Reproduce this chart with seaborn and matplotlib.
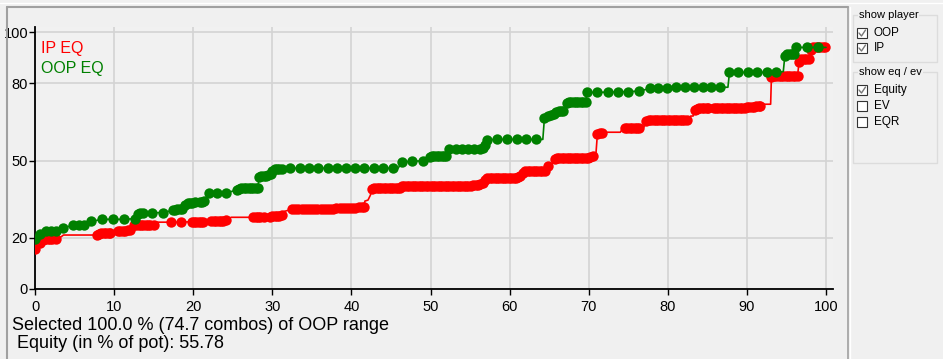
import matplotlib
matplotlib.use("Agg")
import matplotlib.pyplot as plt
from matplotlib.patches import Rectangle
from matplotlib.lines import Line2D
import seaborn as sns
import pandas as pd

# ---------------- data ----------------
IP_X = [0.0, 0.6, 1.0, 1.3, 1.6, 1.9, 2.2, 2.6,
        7.8, 8.1, 8.4, 8.7, 9.0, 9.3, 9.5,
        10.5, 10.8, 11.1, 11.4, 11.7, 12.0,
        12.5, 12.8, 13.1, 13.4, 13.7, 14.0, 14.3, 14.6, 15.0,
        17.2, 18.5,
        19.8, 20.1, 20.4, 20.7, 21.0, 21.3,
        22.3, 22.6, 22.9, 23.2, 23.5, 23.8, 24.2,
        27.6, 27.9, 28.2, 28.5, 28.9,
        29.7, 30.0, 30.3, 30.6, 30.9, 31.2,
        32.5, 32.9, 33.3, 33.7, 34.1, 34.5, 34.9, 35.3, 35.7, 36.1, 36.5, 36.9,
        37.3, 37.7, 38.1, 38.5, 38.9, 39.3, 39.7, 40.1, 40.5, 40.9, 41.3, 41.6,
        42.6, 42.9, 43.2, 43.5, 43.8, 44.1, 44.4, 44.7, 45.0, 45.3, 45.6, 45.9, 46.1,
        46.4, 46.7, 47.0, 47.3, 47.6, 47.9, 48.2, 48.5, 48.8, 49.1, 49.4, 49.7,
        50.0, 50.3, 50.6, 50.9, 51.2, 51.5, 51.8, 52.1, 52.4, 52.7, 53.0, 53.3,
        53.6, 53.9, 54.2, 54.5, 54.8, 55.1, 55.4, 55.7, 56.0, 56.3, 56.6,
        56.9, 57.2, 57.5, 57.8, 58.1, 58.4, 58.7, 59.0, 59.3, 59.6, 59.9, 60.2,
        60.5, 60.8, 61.1, 61.3,
        61.7, 62.0, 62.3, 62.6, 62.9, 63.2, 63.5, 63.8, 64.1, 64.5,
        64.9,
        65.7, 66.0, 66.3, 66.6, 66.9, 67.2, 67.5, 67.8, 68.1, 68.4, 68.7, 69.0,
        69.3, 69.6, 69.9, 70.2, 70.6,
        71.1, 71.4, 71.7,
        74.6, 74.9, 75.2, 75.5, 75.8, 76.1, 76.4,
        77.3, 77.6, 77.9, 78.2, 78.5, 78.8, 79.1, 79.4, 79.7, 80.0, 80.3, 80.6,
        80.9, 81.2, 81.5, 81.8, 82.1, 82.4,
        83.4, 83.7, 84.0, 84.3, 84.6, 84.9, 85.1,
        85.8, 86.1, 86.4, 86.7, 87.0, 87.3, 87.6, 87.9, 88.2, 88.5, 88.8, 89.1,
        89.4, 89.7, 90.0, 90.3, 90.6, 90.9, 91.2, 91.5, 91.7,
        93.1, 93.4, 93.7, 94.0, 94.3, 94.6, 94.9, 95.2, 95.5, 95.8, 96.1, 96.4,
        96.6, 96.9, 97.2, 97.5, 97.8,
        98.1, 98.4, 98.7, 99.0, 99.3, 99.6, 99.9]
IP_Y = [15.4, 18.0, 19.0, 19.3, 19.3, 19.3, 19.3, 19.3,
        21.2, 21.5, 21.7, 21.7, 21.7, 21.8, 21.8,
        22.4, 22.6, 22.7, 22.7, 22.8, 23.0,
        24.9, 24.9, 24.9, 24.9, 24.9, 24.9, 24.9, 24.9, 24.9,
        26.0, 26.0,
        26.2, 26.2, 26.2, 26.2, 26.2, 26.2,
        26.6, 26.6, 26.6, 26.6, 26.6, 26.6, 26.8,
        27.9, 27.9, 27.9, 27.9, 28.0,
        28.2, 28.4, 28.4, 28.4, 28.5, 28.8,
        31.0, 31.0, 31.0, 31.0, 31.0, 31.0, 31.0, 31.0, 31.0, 31.0, 31.1, 31.2,
        31.2, 31.3, 31.4, 31.4, 31.5, 31.5, 31.6, 31.6, 31.7, 31.8, 31.8, 31.8,
        39.0, 39.2, 39.2, 39.2, 39.2, 39.2, 39.2, 39.2, 39.2, 39.2, 39.2, 39.2, 39.2,
        39.9, 40.1, 40.2, 40.2, 40.2, 40.2, 40.2, 40.2, 40.2, 40.2, 40.2, 40.2,
        40.2, 40.2, 40.2, 40.2, 40.2, 40.2, 40.2, 40.2, 40.2, 40.2, 40.2, 40.2,
        40.2, 40.2, 40.2, 40.2, 40.2, 40.2, 40.3, 40.4, 40.6, 40.9, 41.3,
        42.4, 43.0, 43.2, 43.2, 43.2, 43.2, 43.2, 43.2, 43.2, 43.2, 43.2, 43.2,
        43.2, 43.2, 43.5, 44.0,
        45.3, 45.8, 45.8, 45.8, 45.8, 45.8, 45.8, 45.8, 45.8, 45.8,
        47.9,
        50.4, 50.9, 51.1, 51.1, 51.1, 51.1, 51.1, 51.1, 51.1, 51.1, 51.1, 51.1,
        51.1, 51.1, 51.1, 51.3, 51.7,
        60.3, 60.6, 60.6,
        62.5, 62.5, 62.5, 62.5, 62.5, 62.5, 62.5,
        65.2, 65.8, 65.8, 65.8, 65.8, 65.8, 65.8, 65.8, 65.8, 65.8, 65.8, 65.8,
        65.8, 65.8, 65.8, 65.8, 65.8, 65.8,
        69.6, 70.1, 70.3, 70.3, 70.3, 70.3, 70.3,
        70.5, 70.6, 70.6, 70.6, 70.6, 70.6, 70.6, 70.6, 70.6, 70.6, 70.6, 70.6,
        70.6, 70.6, 70.7, 70.8, 70.9, 71.0, 71.1, 71.1, 71.2,
        82.4, 82.9, 82.9, 82.9, 82.9, 82.9, 82.9, 82.9, 82.9, 82.9, 82.9, 82.9,
        88.4, 89.4, 89.4, 89.4, 89.4,
        93.0, 94.0, 94.0, 94.0, 94.0, 94.0, 94.0]
# corner points of the IP line that carry no marker
IP_CORNER_X = [3.3, 3.6, 7.5, 15.2, 24.8, 31.5, 41.7, 42.1, 42.4, 65.4, 70.9,
               71.9, 74.0, 74.3, 76.9, 82.7, 82.9, 83.2, 92.0, 93.0]
IP_CORNER_Y = [20.3, 21.0, 21.0, 26.0, 27.9, 30.2, 34.2, 34.6, 36.5, 48.8, 52.0,
               61.0, 61.0, 62.5, 62.6, 66.0, 67.3, 67.3, 71.9, 71.9]

OOP_X = [0.0, 0.6, 1.4, 2.0, 2.6, 3.5, 4.8, 5.5, 6.2, 7.1, 8.5, 9.9, 11.3, 12.7,
         13.0, 13.3, 13.6, 14.8, 16.2, 17.4, 17.7, 18.0, 18.3, 18.6,
         19.0, 19.3, 19.6, 19.9, 20.2, 20.8, 21.1, 21.4, 22.0, 23.0, 24.1,
         25.5, 25.8, 26.1, 26.4, 26.7, 27.0, 27.3, 27.6, 27.9, 28.2,
         28.3, 28.6, 28.9, 29.2, 29.5, 29.8,
         30.0, 30.3, 30.6, 30.9, 31.2,
         32.3, 33.5, 34.7, 35.8, 37.0, 38.2, 39.3, 40.5, 41.6, 42.9, 44.0, 45.2,
         46.4, 47.7, 49.0,
         49.9, 50.2, 50.5, 50.8, 51.1, 51.4, 51.7, 52.0,
         52.4, 53.2, 54.0, 54.7, 55.5, 56.2, 56.7, 56.9, 57.1,
         58.4, 59.7, 60.9, 62.1, 63.4,
         64.4, 64.8, 65.2, 65.6, 65.9, 66.2, 66.5, 66.8,
         67.2, 67.5, 67.8, 68.1, 68.4, 68.7, 69.0, 69.3, 69.6,
         69.8, 71.1, 72.4, 73.7, 75.0, 76.4,
         77.8, 78.8, 79.9, 81.0, 82.2, 83.3, 84.4, 85.5, 86.6,
         87.8, 88.9, 90.1, 91.3, 92.5, 93.7,
         94.8, 95.1, 95.4, 95.7, 95.9,
         96.2, 97.6, 99.0]
OOP_Y = [19.3, 21.4, 22.7, 22.7, 22.7, 23.7, 24.8, 24.8, 24.8, 26.3, 27.1, 27.1, 27.1, 27.4,
         29.2, 29.7, 29.7, 29.7, 29.7, 30.6, 30.9, 31.0, 31.0, 31.2,
         32.8, 33.4, 33.6, 33.6, 33.8, 34.0, 34.0, 34.3, 37.2, 37.2, 37.2,
         38.6, 39.0, 39.2, 39.2, 39.2, 39.2, 39.2, 39.2, 39.2, 39.2,
         43.5, 44.0, 44.0, 44.0, 44.2, 44.6,
         45.9, 46.5, 46.6, 46.7, 46.8,
         47.0, 47.0, 47.0, 47.0, 47.0, 47.0, 47.0, 47.0, 47.0, 47.0, 47.0, 47.0,
         49.3, 49.8, 49.8,
         51.4, 51.8, 51.8, 51.8, 51.8, 51.8, 51.8, 51.8,
         54.5, 54.5, 54.5, 54.5, 54.5, 54.5, 55.0, 56.0, 58.0,
         58.2, 58.2, 58.2, 58.2, 58.2,
         66.4, 67.4, 67.8, 68.2, 69.0, 69.4, 69.4, 69.2,
         72.5, 72.9, 72.9, 72.9, 72.9, 72.9, 72.9, 72.9, 72.9,
         76.5, 76.5, 76.6, 76.7, 76.8, 77.0,
         78.1, 78.1, 78.1, 78.5, 78.5, 78.5, 78.5, 78.5, 78.5,
         84.3, 84.3, 84.3, 84.3, 84.3, 84.3,
         90.8, 91.3, 91.3, 91.3, 91.3,
         94.0, 94.0, 94.0]
OOP_CORNER_X = [45.9, 64.2, 87.6, 94.6, 96.1, 100.0]
OOP_CORNER_Y = [47.0, 58.2, 78.5, 84.6, 91.3, 94.0]

X_TICKS = [0, 10, 20, 30, 40, 50, 60, 70, 80, 90, 100]
Y_TICKS = [0, 20, 50, 80, 100]
SERIES_LABELS = ["IP EQ", "OOP EQ"]
INFO_LINES = ["Selected 100.0 % (74.7 combos) of OOP range",
              " Equity (in % of pot): 55.78"]
GROUPS = [("show player", [("OOP", True), ("IP", True)]),
          ("show eq / ev", [("Equity", True), ("EV", False), ("EQR", False)])]

# ---------------- style ----------------
sns.set_style("ticks")
BG = "#F0F0F0"
plt.rcParams["font.family"] = ["Liberation Sans", "DejaVu Sans"]
RED = "#FF0000"
GREEN = "#008000"

W, H = 943, 359
fig = plt.figure(figsize=(W / 100, H / 100), dpi=100, facecolor=BG)

def fx(px):
    return px / W

def fy(py):
    return 1 - py / H

ax = fig.add_axes([fx(35), fy(289), fx(833) - fx(35), fy(27) - fy(289)])
ax.set_facecolor("#F1F1F1")

ip_line = pd.DataFrame({"x": IP_X + IP_CORNER_X, "y": IP_Y + IP_CORNER_Y}).sort_values("x")
oop_line = pd.DataFrame({"x": OOP_X + OOP_CORNER_X, "y": OOP_Y + OOP_CORNER_Y}).sort_values("x")
ip_pts = pd.DataFrame({"x": IP_X, "y": IP_Y})
oop_pts = pd.DataFrame({"x": OOP_X, "y": OOP_Y})

sns.lineplot(data=ip_line, x="x", y="y", sort=False, estimator=None,
             color=RED, lw=1.2, ax=ax, zorder=3)
sns.scatterplot(data=ip_pts, x="x", y="y", color=RED, s=56, marker="o",
                linewidth=0, ax=ax, zorder=4)
sns.lineplot(data=oop_line, x="x", y="y", sort=False, estimator=None,
             color=GREEN, lw=1.2, ax=ax, zorder=5)
sns.scatterplot(data=oop_pts, x="x", y="y", color=GREEN, s=56, marker="o",
                linewidth=0, ax=ax, zorder=6)

ax.set_xlim(0, (833 - 35) / 7.91)
ax.set_ylim(0, (289 - 27) / 2.57)
ax.set_xticks(X_TICKS)
ax.set_yticks(Y_TICKS)
ax.set_xlabel("")
ax.set_ylabel("")
ax.grid(True, color="#D4D4D4", lw=1.2)
ax.set_axisbelow(True)
for s in ["top", "right"]:
    ax.spines[s].set_visible(False)
for s in ["left", "bottom"]:
    ax.spines[s].set_color("black")
    ax.spines[s].set_linewidth(1.3)
ax.tick_params(axis="both", length=4, width=1, color="black", labelsize=10.5,
               labelcolor="black", pad=1)
ax.tick_params(axis="x", pad=4)

# series labels inside the plot
fig.text(fx(41), fy(48), SERIES_LABELS[0], color=RED, fontsize=11.5, va="center", ha="left")
fig.text(fx(41), fy(68), SERIES_LABELS[1], color=GREEN, fontsize=11.5, va="center", ha="left")

# info text below
fig.text(fx(12), fy(325), INFO_LINES[0], fontsize=13, va="center", ha="left", color="black")
fig.text(fx(12), fy(344), INFO_LINES[1], fontsize=13, va="center", ha="left", color="black")

# panel borders
fig.add_artist(Line2D([fx(7), fx(848)], [fy(7), fy(7)], color="#A0A0A0", lw=1.5))
fig.add_artist(Line2D([fx(7), fx(7)], [fy(7), fy(359)], color="#A0A0A0", lw=1.5))
fig.add_artist(Line2D([fx(848), fx(848)], [fy(7), fy(359)], color="#A0A0A0", lw=1.2))
fig.add_artist(Line2D([fx(850), fx(850)], [fy(7), fy(359)], color="white", lw=1.0))
fig.add_artist(Line2D([fx(0), fx(943)], [fy(3), fy(3)], color="white", lw=1.0))

# group boxes with check boxes
group_geo = [(15, 62), (72, 163)]
for (title, items), (top, bottom) in zip(GROUPS, group_geo):
    fig.add_artist(Rectangle((fx(853), fy(bottom)), fx(937) - fx(853), fy(top) - fy(bottom),
                             fill=False, edgecolor="#DCDCDC", lw=1.0))
    fig.text(fx(859), fy(top), title, fontsize=8, va="center", ha="left", color="black",
             bbox=dict(facecolor=BG, edgecolor="none", pad=0.5))
    for i, (label, checked) in enumerate(items):
        cy = top + 18 + i * 16 if top > 20 else top + 18 + i * 15
        fig.add_artist(Rectangle((fx(857), fy(cy + 5)), fx(867) - fx(857), fy(cy - 5) - fy(cy + 5),
                                 facecolor="white", edgecolor="#333333", lw=0.8))
        if checked:
            fig.add_artist(Line2D([fx(859), fx(861.5), fx(865.5)],
                                  [fy(cy), fy(cy + 3), fy(cy - 3)],
                                  color="#777777", lw=1.0))
        fig.text(fx(874), fy(cy), label, fontsize=8.5, va="center", ha="left", color="black")

fig.savefig("out.png", dpi=100, facecolor=BG)
